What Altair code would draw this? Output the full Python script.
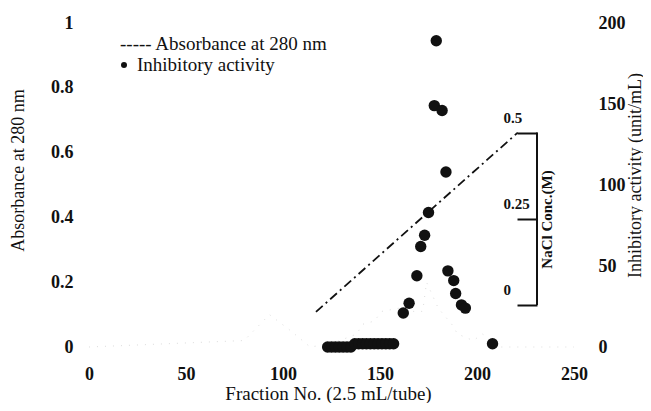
import altair as alt
import pandas as pd

# ---- data ----
act_fraction = [123, 125, 127, 129, 131, 133, 135, 137, 139, 141, 143, 145, 147, 149, 151, 153, 155, 157,
                162, 165, 169, 171, 173, 175, 178, 179, 182, 184, 185, 188, 189, 192, 194, 208]
act_value = [0, 0, 0, 0, 0, 0, 0, 2, 2, 2, 2, 2, 2, 2, 2, 2, 2, 2,
             21, 27, 44, 62, 69, 83, 149, 189, 146, 108, 47, 41, 33, 26, 24, 2]

abs_fraction = [0, 40, 80, 93, 104, 114, 125, 138, 141, 147, 151, 160, 166, 172, 174, 180, 187, 190, 198, 203, 210, 230, 250]
absorbance = [0, 0.01, 0.02, 0.10, 0.05, 0.0, 0.01, 0.04, 0.07, 0.08, 0.11, 0.12, 0.11, 0.11, 0.2, 0.12, 0.07, 0.04, 0.02, 0.04, 0.0, 0.0, 0.0]

nacl_fraction = [117, 221]
nacl_conc = [-0.02, 0.5]

x_ticks = [0, 50, 100, 150, 200, 250]
left_ticks = [0, 0.2, 0.4, 0.6, 0.8, 1]
right_ticks = [0, 50, 100, 150, 200]
nacl_ticks = [0, 0.25, 0.5]
legend_labels = ["----- Absorbance at 280 nm", "Inhibitory activity"]

act_df = pd.DataFrame({"fraction": act_fraction, "activity": act_value})
abs_df = pd.DataFrame({"fraction": abs_fraction, "absorbance": absorbance})
nacl_df = pd.DataFrame({"fraction": nacl_fraction, "nacl": nacl_conc})
bracket_df = pd.DataFrame({"lo": [nacl_ticks[0]], "hi": [nacl_ticks[-1]]})

INK = "#111111"
xs = alt.Scale(domain=[0, 250], nice=False, zero=False)

x_axis = alt.Axis(values=x_ticks, title="Fraction No. (2.5 mL/tube)", labelFontWeight="bold",
                  labelFontSize=18, labelPadding=18, labelFlush=False, domain=False, tickSize=0,
                  grid=False, titleFontSize=19, titleFontWeight="normal", titleY=52, titleX=239,
                  titleBaseline="alphabetic", labelColor=INK, titleColor=INK)

abs_line = alt.Chart(abs_df).mark_line(color="#dddddd", strokeWidth=1, strokeDash=[1, 7]).encode(
    x=alt.X("fraction:Q", scale=xs, axis=x_axis),
    y=alt.Y("absorbance:Q", scale=alt.Scale(domain=[0, 1], nice=False),
            axis=alt.Axis(orient="left", values=left_ticks, format="~g", title="Absorbance at 280 nm",
                          labelFontWeight="bold", labelFontSize=18, labelPadding=16, domain=False,
                          tickSize=0, grid=False, titleFontSize=18, titleFontWeight="normal",
                          titleAngle=270, titleX=-71, titleY=147, titleAlign="center",
                          titleBaseline="middle", labelColor=INK, titleColor=INK)),
)

points = alt.Chart(act_df).mark_circle(color=INK, size=130, opacity=1).encode(
    x=alt.X("fraction:Q", scale=xs, axis=x_axis),
    y=alt.Y("activity:Q", scale=alt.Scale(domain=[0, 200], nice=False),
            axis=alt.Axis(orient="right", values=right_ticks, title="Inhibitory activity (unit/mL)",
                          labelFontWeight="bold", labelFontSize=18, labelPadding=24, domain=False,
                          tickSize=0, grid=False, titleFontSize=18, titleFontWeight="normal",
                          titleAngle=270, titleX=61, titleY=152, titleAlign="center",
                          titleBaseline="middle", labelColor=INK, titleColor=INK)),
)

nacl_scale = alt.Scale(domain=[-0.122, 0.818], nice=False, zero=False)
nacl_axis = alt.Axis(orient="left", offset=-448, values=nacl_ticks, labelExpr="'' + datum.value",
                     domain=False, tickSize=20, tickWidth=2, tickColor=INK, labelAlign="left",
                     labelPadding=14, labelOffset=-15, labelFontWeight="bold", labelFontSize=15,
                     labelColor=INK, title="NaCl Conc.(M)", titleFontWeight="bold", titleFontSize=15,
                     titleAngle=270, titleX=9, titleY=196, titleAlign="center",
                     titleBaseline="middle", titleColor=INK, grid=False)
nacl_line = alt.Chart(nacl_df).mark_line(color=INK, strokeWidth=1.8, strokeDash=[9, 4, 2, 4]).encode(
    x=alt.X("fraction:Q", scale=xs, axis=x_axis),
    y=alt.Y("nacl:Q", scale=nacl_scale, axis=nacl_axis),
)
bracket = alt.Chart(bracket_df).mark_rule(color=INK, strokeWidth=2).encode(
    x=alt.value(448),
    y=alt.Y("lo:Q", scale=nacl_scale, axis=nacl_axis),
    y2="hi:Q",
)
nacl_layer = alt.layer(nacl_line, bracket)

leg1 = alt.Chart(pd.DataFrame({"t": [legend_labels[0]]})).mark_text(
    align="left", baseline="middle", fontSize=19, color=INK).encode(
    x=alt.value(31), y=alt.value(21), text="t:N")
leg2_dot = alt.Chart(pd.DataFrame({"t": [legend_labels[1]]})).mark_point(
    shape="circle", filled=True, size=36, color=INK, opacity=1).encode(
    x=alt.value(35), y=alt.value(42))
leg2 = alt.Chart(pd.DataFrame({"t": [legend_labels[1]]})).mark_text(
    align="left", baseline="middle", fontSize=19, color=INK).encode(
    x=alt.value(48), y=alt.value(42), text="t:N")

chart = alt.layer(abs_line, points, nacl_layer, leg1, leg2_dot, leg2).resolve_scale(
    y="independent"
).properties(
    width=485, height=324,
    padding={"left": 81, "top": 15, "right": 69, "bottom": 56},
    autosize=alt.AutoSizeParams(type="none"),
).configure(font="Liberation Serif").configure_view(stroke=None)

chart.save("out.html", embed_options={"renderer": "svg", "actions": False})
